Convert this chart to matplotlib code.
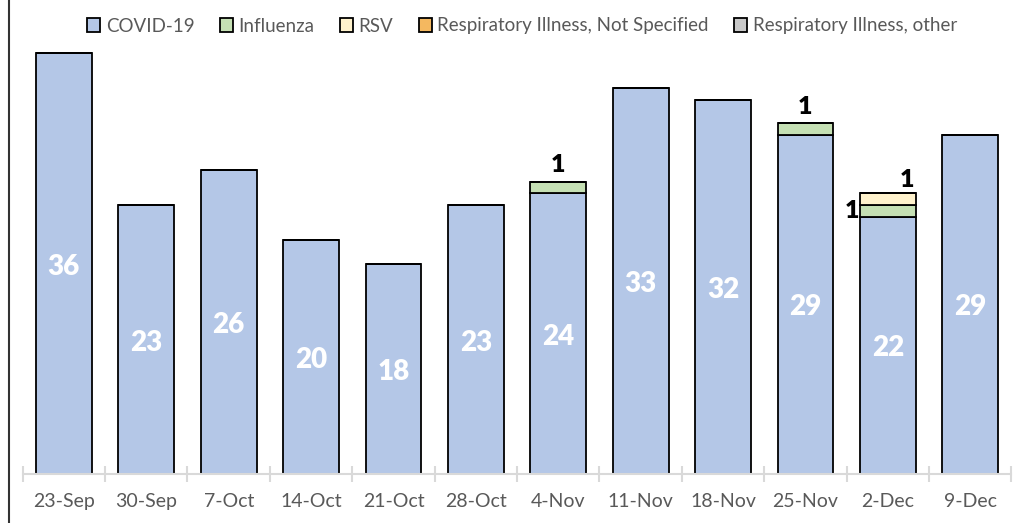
import numpy as np
import matplotlib
matplotlib.use("Agg")
import matplotlib.pyplot as plt
from matplotlib.lines import Line2D

weeks = ["23-Sep", "30-Sep", "7-Oct", "14-Oct", "21-Oct", "28-Oct",
         "4-Nov", "11-Nov", "18-Nov", "25-Nov", "2-Dec", "9-Dec"]
covid = [36, 23, 26, 20, 18, 23, 24, 33, 32, 29, 22, 29]
influenza = [0, 0, 0, 0, 0, 0, 1, 0, 0, 1, 1, 0]
rsv = [0, 0, 0, 0, 0, 0, 0, 0, 0, 0, 1, 0]
not_specified = [0] * 12
other = [0] * 12

series = [
    ("COVID-19", covid, "#B4C7E7"),
    ("Influenza", influenza, "#C5E0B4"),
    ("RSV", rsv, "#FFF2CC"),
    ("Respiratory Illness, Not Specified", not_specified, "#F4B860"),
    ("Respiratory Illness, other", other, "#C8C8C8"),
]

plt.rcParams["font.family"] = ["Lato", "DejaVu Sans"]

fig = plt.figure(figsize=(10.14, 5.23), dpi=100)
ax = fig.add_axes([22.7 / 1014, 49 / 523, 988.8 / 1014, 38 * 11.69 / 523])

x = np.arange(len(weeks))
bottom = np.zeros(len(weeks))
for name, vals, col in series:
    vals = np.array(vals, dtype=float)
    ax.bar(x, vals, 0.676, bottom=bottom, color=col, edgecolor="black",
           linewidth=1.3, label=name, zorder=2)
    bottom += vals

# white counts inside the covid bars
for xi, v in zip(x, covid):
    ax.annotate(str(v), (xi, v / 2), xytext=(0, -3), textcoords="offset pixels",
                ha="center", va="center", color="white",
                fontsize=20, fontweight="heavy", zorder=3)

# small black labels for influenza / rsv
tops = np.array(covid) + np.array(influenza)
for xi, v in zip(x, influenza):
    if v and rsv[xi] == 0:
        ax.annotate(str(v), (xi, tops[xi]), xytext=(0, 4), textcoords="offset points",
                    ha="center", va="bottom", fontsize=18, fontweight="heavy")
for xi, v in zip(x, influenza):
    if v and rsv[xi]:
        ax.annotate(str(v), (xi, covid[xi] + 0.5), xytext=(-36, 0),
                    textcoords="offset pixels", ha="center", va="center",
                    fontsize=18, fontweight="heavy")
for xi, v in zip(x, rsv):
    if v:
        ax.annotate(str(v), (xi, tops[xi] + v), xytext=(19, 2),
                    textcoords="offset pixels", ha="center", va="bottom",
                    fontsize=18, fontweight="heavy")

ax.set_xlim(-0.5, len(weeks) - 0.5)
ax.set_ylim(0, 38)
ax.set_yticks([])
for s in ["top", "right", "left"]:
    ax.spines[s].set_visible(False)
ax.spines["bottom"].set_color("#D9D9D9")
ax.spines["bottom"].set_linewidth(1.5)
ax.spines["bottom"].set_zorder(4)
ax.set_xticks(x)
ax.set_xticklabels(weeks, fontsize=14, color="#595959")
ax.tick_params(axis="x", which="major", length=0, pad=14)
ax.set_xticks(np.arange(-0.5, len(weeks)), minor=True)
ax.tick_params(axis="x", which="minor", length=12, direction="inout",
               color="#D9D9D9", width=1.5)

fig.legend(loc="center", bbox_to_anchor=(522 / 1014, 1 - 26 / 523), ncol=5,
           frameon=False, fontsize=13.5, labelcolor="#595959", handlelength=0.7,
           handleheight=0.7, handletextpad=0.3, columnspacing=1.35)

fig.add_artist(Line2D([8.5 / 1014, 8.5 / 1014], [0, 1], color="#333333", lw=1.5))

fig.savefig("out.png", dpi=100)
